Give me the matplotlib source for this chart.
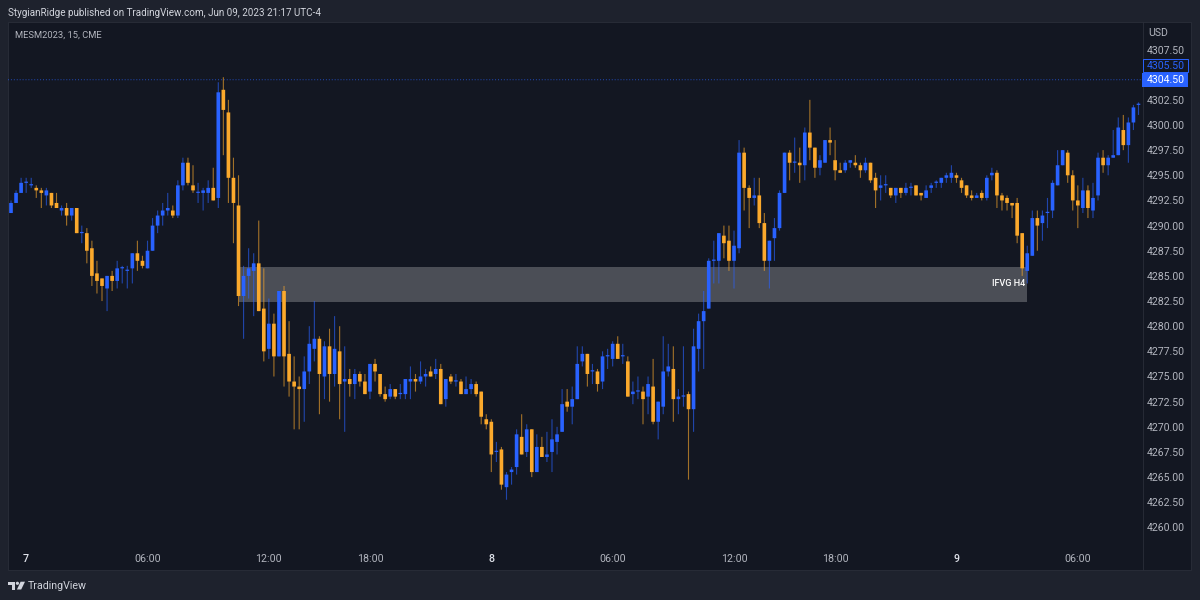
import matplotlib
matplotlib.use("Agg")
import matplotlib.pyplot as plt
from matplotlib.patches import Rectangle, Polygon, Circle

opens = [4291.25,4292.25,4293.25,4294.25,4294,4293.75,4293.5,4293,4293.25,4292.25,
 4291.5,4291.75,4291,4291.75,4289.25,4289.25,4287.75,4285.25,4284.75,4283.75,
 4285,4284.5,4285.75,4285.5,4285.75,4287.25,4286.5,4285.75,4287.5,4290,
 4291,4291.5,4291.5,4291,4294,4296.25,4294,4293.25,4293.25,4293.25,
 4293.75,4292.75,4303.5,4301.25,4294.75,4292,4283,4285,4285.5,4286.25,
 4281.75,4277.75,4280.25,4277,4283.5,4277.25,4274.5,4274,4273.75,4275.5,
 4277.75,4278.75,4275,4278,4275.25,4277.5,4274.5,4274.75,4274.25,4275.25,
 4274.5,4273.5,4276.25,4275.25,4273.25,4273,4273.75,4273.25,4273.25,4274.5,
 4274.75,4274.5,4275,4275.5,4275.25,4275.75,4272.75,4275,4274.5,4274.5,
 4273.25,4273.75,4274.25,4273.5,4270.75,4270.5,4267.5,4267.75,4264,4265.5,
 4266,4269,4267.5,4269.75,4265.5,4268,4267,4267.5,4268.5,4269.5,
 4272.5,4272,4272.75,4276.5,4277.25,4275.5,4275.5,4274.5,4277,4276.75,
 4278.25,4277,4276.5,4273.25,4273.5,4273.5,4273,4274,4270.5,4272,
 4275.5,4275.75,4272.75,4273,4273.25,4271.75,4277.75,4280.5,4281.75,4286.5,
 4286.5,4289,4288.5,4286.5,4287.75,4297.25,4293.75,4292.75,4293,4290.25,
 4286.5,4288.75,4289.75,4293.25,4297.25,4296.25,4296.25,4296,4299.25,4297.75,
 4295.75,4296.25,4298.5,4296.5,4295.5,4295.5,4296.25,4296.25,4296,4295.5,
 4296.25,4294.75,4293.75,4294,4293.75,4293,4293.75,4293.25,4293.75,4294,
 4293.25,4292.75,4293.75,4294.25,4294.25,4294.75,4294.75,4295,4294.5,4294,
 4293,4292.75,4293.25,4292.75,4295,4295.25,4293,4292.75,4292.25,4292.25,
 4289.25,4285.5,4287,4290.75,4290.25,4291.25,4291.5,4294,4296,4297.25,
 4295,4292.5,4291.75,4293.5,4291.5,4293,4296.75,4296,4296.75,4297,
 4299.5,4298,4300.25,4302]

closes = [4292.25,4293.25,4294.25,4294.25,4294,4293.5,4293.25,4293.5,4292,4291.75,
 4291.75,4291,4291.75,4289.25,4289.25,4287.5,4285,4284.5,4284,4285,
 4284.5,4285.75,4285.75,4285.5,4287.25,4286.5,4286,4287.5,4290,4291,
 4291.5,4291.75,4291,4294,4296.25,4294.25,4293.5,4293.25,4293.5,4293.75,
 4292.5,4303.25,4301.5,4294.75,4292.25,4283,4285,4285.75,4286.25,4281.5,
 4277.5,4280.25,4277,4283.5,4277,4274.5,4274,4273.75,4275.5,4278.25,
 4278.75,4275.25,4278,4275.25,4277.75,4274.25,4274.75,4274.25,4275.25,4274.5,
 4273.25,4276.25,4275.5,4273.25,4272.75,4273.75,4273,4273.25,4274.75,4274.75,
 4274.5,4275,4275.25,4275,4275.75,4272.25,4274.75,4274.5,4274.5,4273.25,
 4273.75,4274.25,4273.25,4271,4270.25,4267.25,4267.5,4264.25,4265.25,4265.75,
 4269.25,4267.25,4269.75,4265.5,4268,4267,4267.25,4268.75,4269.25,4272.25,
 4272,4272.75,4276.25,4277.25,4275.25,4275.5,4274.25,4277,4277,4278.25,
 4276.75,4277,4273,4273.5,4273.5,4272.75,4274.25,4270.5,4272.5,4275.5,
 4276,4272.75,4273,4273,4271.75,4278,4280.5,4281.5,4286.5,4286.5,
 4289.25,4288.25,4286.5,4288,4297.25,4293.75,4292.75,4293,4290.25,4286.5,
 4288.5,4289.75,4293.25,4297.25,4296.25,4296.25,4296,4299.25,4297.75,4295.75,
 4296.5,4298.5,4298.25,4295.5,4295.25,4296.25,4296.5,4296,4295.5,4296.25,
 4294.5,4293.5,4294,4294,4293,4293.75,4293.25,4293.75,4293.75,4293,
 4293,4293.5,4294,4294.25,4294.75,4295,4295.25,4294.75,4293.75,4293,
 4292.75,4293,4292.75,4294.75,4295.25,4293,4292.5,4292.25,4292,4289,
 4285.75,4287.25,4290.75,4290,4291,4291.25,4294.25,4296,4297.5,4295,
 4292.5,4292,4293.5,4291.75,4292.75,4296.75,4296,4296.75,4297,4299.75,
 4298,4300.25,4301.75,4302]

highs = [4292.5,4293.5,4294.75,4294.75,4294.75,4294,4293.75,4293.75,4293.25,4293.25,
 4292,4292.25,4291.75,4291.75,4290,4289.75,4288.5,4286.5,4284.75,4285,
 4285.5,4286.5,4286,4286,4287.25,4288.5,4287,4288.5,4290.75,4291.5,
 4292.25,4293.25,4292,4294.5,4296.75,4296.75,4296,4294.25,4293.75,4294.5,
 4295.75,4304.25,4304.75,4302.5,4296.75,4295,4286,4287.75,4287.25,4290.5,
 4285.75,4282.75,4281.25,4283.5,4284,4280.5,4277,4275,4277,4280,
 4282.5,4279,4278.5,4279.75,4281,4280,4278,4275.75,4275.75,4275.5,
 4275.25,4276.25,4276.75,4275.25,4274,4274.25,4273.75,4274.25,4274.75,4276,
 4275.25,4276.5,4275.75,4276,4276.75,4276.25,4274.75,4275.25,4275.25,4274.75,
 4275,4274.75,4274.5,4273.5,4271.25,4270.75,4268.5,4268,4265.5,4266,
 4269.75,4271.25,4270.25,4269.75,4269.25,4269,4269.5,4270.75,4270,4273.75,
 4273.75,4274,4278,4278,4277.25,4276.25,4275.75,4277.5,4277.75,4278.5,
 4279,4278.25,4277,4274.5,4275,4274,4275,4276.75,4272.5,4279,
 4278.25,4278,4273.75,4278,4273.5,4279.75,4281.25,4283.5,4286.75,4288.5,
 4289.25,4290,4290,4289.5,4298.5,4297.75,4294,4294.75,4294.75,4291.25,
 4288.5,4290.75,4293.5,4297.25,4297.5,4298.75,4297.75,4299.75,4302.5,4297.75,
 4297,4298.5,4299.75,4298.5,4296.25,4296.5,4296.5,4297,4296.25,4296.75,
 4296.25,4295.25,4295,4295,4293.75,4293.75,4293.75,4294.25,4294.25,4294,
 4293.25,4294,4294.25,4294.5,4294.75,4295.25,4296,4295.25,4294.75,4294,
 4293.5,4293.25,4293.5,4295,4295.75,4295.5,4293.25,4293,4292.25,4292.75,
 4289.25,4288,4291.5,4291.5,4291.5,4292.75,4294.5,4297.5,4297.5,4297.5,
 4295.5,4294,4294.75,4294,4294.25,4297.25,4297.5,4297,4299.5,4300.75,
 4301,4300.75,4302,4302.25]

lows = [4291.25,4292.25,4293.25,4293.25,4293.75,4292.75,4291.75,4292,4291.75,4291.75,
 4291,4290,4290.5,4289.25,4288.25,4286.25,4284,4283.25,4282.5,4281.5,
 4283.5,4283.75,4284.25,4283.75,4284.25,4285.5,4285.75,4285.75,4287.5,4289.25,
 4290,4291,4290.75,4290.75,4293.5,4294,4293.25,4292.25,4291.5,4292.25,
 4292.5,4291.75,4297,4292.25,4288.25,4282,4278.75,4282.75,4281,4281.5,
 4276.5,4276.75,4275,4277,4274,4273,4269.75,4269.75,4270.5,4274.25,
 4276.5,4271.25,4272.75,4272.5,4274,4270.75,4269.5,4273,4272.75,4274,
 4273.25,4272.75,4274.5,4273,4272.5,4272.75,4272.75,4272.75,4272.75,4272.75,
 4273.5,4274.25,4274,4275,4274.75,4272.25,4272,4274.25,4274,4273.25,
 4273.25,4273.25,4273,4270.25,4269.75,4265.5,4266.5,4263.75,4262.75,4264.25,
 4265.25,4267.25,4267,4265,4265.5,4267,4266.5,4265.5,4267.25,4269.5,
 4271.5,4270.25,4272.75,4276,4274,4274.25,4273.5,4273.75,4275.75,4276,
 4276.75,4276.25,4273,4272.25,4272.75,4270.25,4271.25,4270.25,4268.75,4271.25,
 4275,4270.5,4271.25,4272,4264.75,4269.5,4275.5,4275.75,4281.75,4284.25,
 4284.25,4286.75,4285.5,4283.75,4287.25,4291.5,4289.75,4292,4289.75,4285.5,
 4283.75,4286.5,4289.5,4293.25,4294.5,4295.25,4294.25,4294.5,4296.5,4294.75,
 4295,4296.25,4297,4294.5,4295.25,4295.25,4295.75,4295.75,4294.75,4295.25,
 4294.25,4291.75,4292.5,4293.25,4292.75,4292.25,4292.75,4293,4293,4293,
 4292.5,4292.75,4293.25,4293.75,4293.75,4294.25,4294.25,4294.25,4293.25,4292.75,
 4292.5,4292.75,4292.5,4292.5,4294.5,4291.75,4291.5,4291.5,4290.75,4288.25,
 4285,4284.25,4287,4287.5,4288.5,4289.75,4290.75,4294,4296,4294.25,
 4291.5,4289.75,4291.25,4290.75,4290.75,4292.5,4295.25,4295,4296.75,4297,
 4297.5,4296.25,4299.5,4301]

time_tick_bars = [3, 27, 51, 71, 95, 119, 143, 163, 187, 211]
time_tick_labels = ["7", "06:00", "12:00", "18:00", "8", "06:00", "12:00", "18:00", "9", "06:00"]
price_ticks = [4260, 4262.5, 4265, 4267.5, 4270, 4272.5, 4275, 4277.5, 4280, 4282.5, 4285,
               4287.5, 4290, 4292.5, 4295, 4297.5, 4300, 4302.5, 4307.5]
last_price = 4304.5
prev_price = 4305.5
zone_top, zone_bottom = 4285.9, 4282.4
zone_start, zone_end = 45.1, 201.0
zone_label = "IFVG H4"

BLUE = "#2962ff"
ORANGE = "#fba92c"
FONT = ["Roboto", "DejaVu Sans"]
GREY = "#b2b5be"

W, H = 1200, 600
fig = plt.figure(figsize=(12, 6), dpi=100, facecolor="#1e222d")

# pixel-space overlay for the frame and the chrome
bg = fig.add_axes([0, 0, 1, 1], zorder=0)
bg.set_xlim(0, W); bg.set_ylim(H, 0); bg.axis("off")
bg.add_patch(Rectangle((8, 22), 1183, 548, fc="#131722", ec="#2a2e39", lw=0.6))
bg.plot([1143, 1143], [22, 570], color="#2a2e39", lw=0.6)

# main chart
L, R, T, B = 8, 1143, 22, 570
ax = fig.add_axes([L / W, 1 - B / H, (R - L) / W, (B - T) / H], zorder=1)
ax.patch.set_alpha(0)
ax.set_xlim((L - 11) / 5.056, (R - 11) / 5.056)
ax.set_ylim(4300 - (B - 125) / 10.06, 4300 + (125 - T) / 10.06)
for s in ax.spines.values():
    s.set_visible(False)
ax.set_xticks([]); ax.set_yticks([])

xs = list(range(len(opens)))
colors = [BLUE if c >= o else ORANGE for o, c in zip(opens, closes)]

ax.add_patch(Rectangle((zone_start, zone_bottom), zone_end - zone_start, zone_top - zone_bottom,
                       fc="white", alpha=0.24, lw=0, zorder=1))
ax.text(zone_end - 0.3, (zone_top + zone_bottom) / 2 + 0.05, zone_label, color="white", fontsize=6.6,
        ha="right", va="center", family=FONT, fontweight="medium", zorder=5)

wicks = ax.vlines(xs, lows, highs, colors=colors, linewidth=0.8, alpha=0.62, zorder=2)
wicks.set_snap(False)
heights = [max(abs(c - o), 0.12) for o, c in zip(opens, closes)]
bottoms = [min(o, c) for o, c in zip(opens, closes)]
bodies = ax.bar(xs, heights, bottom=bottoms, width=0.72, color=colors, linewidth=0, zorder=3)
for body in bodies:
    body.set_snap(False)

ax.axhline(last_price, color=BLUE, lw=0.7, ls=(0, (1, 2)), alpha=0.7, zorder=1).set_snap(False)

for b, lab in zip(time_tick_bars, time_tick_labels):
    is_day = ":" not in lab
    bg.text(11 + 5.056 * b, 559.5, lab, color="#e0e3eb" if is_day else GREY, fontsize=7.7,
            ha="center", va="center", family=FONT, fontweight="medium" if is_day else "normal")

def ypix(p):
    return 125 + (4300 - p) * 10.06

for p in price_ticks:
    bg.text(1166, ypix(p) + 1, f"{p:.2f}", color=GREY, fontsize=7.6, ha="center", va="center", family=FONT)

bg.text(1158, 33.5, "USD", color=GREY, fontsize=7.6, ha="center", va="center", family=FONT)

yl = ypix(last_price)
yp = yl - 14          # the tag is pushed up so that it clears the last-price tag
bg.add_patch(Rectangle((1142.5, yp - 6.3), 45.5, 12.8, fc="#131722", ec=BLUE, lw=0.7, zorder=3))
bg.text(1165.5, yp + 0.5, f"{prev_price:.2f}", color=BLUE, fontsize=7.6, ha="center", va="center",
        family=FONT, zorder=4)
bg.add_patch(Rectangle((1142, yl - 7.2), 46, 14.4, fc=BLUE, ec="none", zorder=3))
bg.text(1165.5, yl + 0.5, f"{last_price:.2f}", color="white", fontsize=7.6, ha="center", va="center",
        family=FONT, zorder=4)

bg.text(15, 35, "MESM2023, 15, CME", color=GREY, fontsize=6.75, ha="left", va="center", family=FONT)
bg.text(8, 12.5, "StygianRidge published on TradingView.com, Jun 09, 2023 21:17 UTC-4",
        color="#d1d4dc", fontsize=7.15, ha="left", va="center", family=FONT)

# TradingView logo and wordmark
LOGO = "#d1d4dc"
bg.add_patch(Polygon([(8.3, 581.7), (15.2, 581.7), (15.2, 589.5), (11.8, 589.5), (11.8, 584.6), (8.3, 584.6)],
                     closed=True, fc=LOGO, ec="none"))
bg.add_patch(Circle((17.4, 583.3), 1.6, fc=LOGO, ec="none"))
bg.add_patch(Polygon([(20.6, 581.7), (25, 581.7), (21.2, 589.5), (16.9, 589.5)], closed=True, fc=LOGO, ec="none"))
bg.text(28, 586, "TradingView", color=LOGO, fontsize=7.7, ha="left", va="center", family=FONT)

fig.savefig("out.png", dpi=100, facecolor=fig.get_facecolor())
